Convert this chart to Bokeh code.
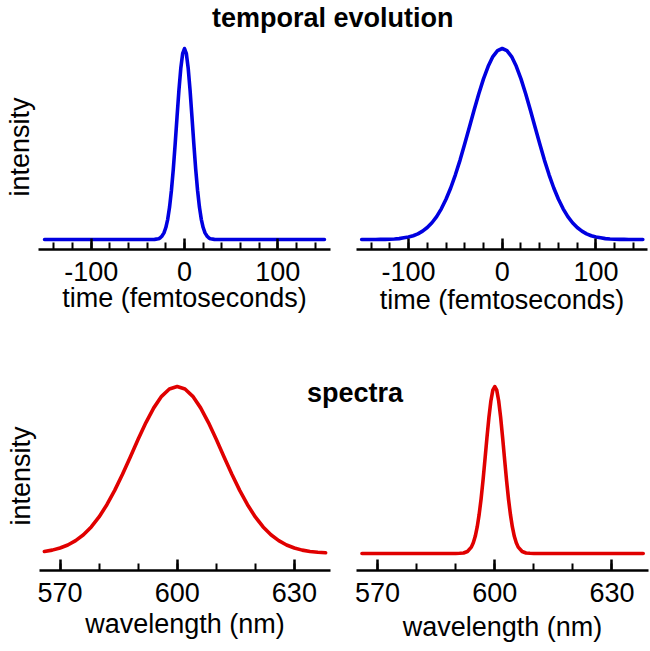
from bokeh.plotting import figure
from bokeh.models import Range1d, SingleIntervalTicker, FixedTicker, Div
from bokeh.layouts import row, column
from bokeh.embed import file_html
from bokeh.resources import INLINE

# ---------------- data ----------------
# top left: short pulse, intensity vs time (fs)
tl_time = [-150, -36, -32, -28, -26, -24, -22, -20, -18, -16, -14, -12, -10, -8, -6, -4, -2,
           0, 2, 4, 6, 8, 10, 12, 14, 16, 18, 20, 22, 24, 26, 28, 32, 36, 150]
tl_int = [0.0, 0.000, 0.001, 0.004, 0.009, 0.019, 0.035, 0.063, 0.106, 0.170, 0.258, 0.369, 0.501, 0.642, 0.780, 0.895, 0.973,
          1.000, 0.973, 0.895, 0.780, 0.642, 0.501, 0.369, 0.258, 0.170, 0.106, 0.063, 0.035, 0.019, 0.009, 0.004, 0.001, 0.000, 0.0]

# top right: long pulse, intensity vs time (fs)
tr_time = [-150, -145, -140, -135, -130, -125, -120, -115, -110, -105, -100, -95, -90, -85, -80, -75, -70, -65, -60, -55,
           -50, -45, -40, -35, -30, -25, -20, -15, -10, -5, 0, 5, 10, 15, 20, 25, 30, 35, 40, 45,
           50, 55, 60, 65, 70, 75, 80, 85, 90, 95, 100, 105, 110, 115, 120, 125, 130, 135, 140, 145, 150]
tr_int = [0.000, 0.000, 0.000, 0.000, 0.001, 0.001, 0.002, 0.003, 0.005, 0.009, 0.013, 0.020, 0.030, 0.044, 0.063, 0.088, 0.120, 0.161, 0.211, 0.270,
          0.339, 0.416, 0.501, 0.589, 0.678, 0.763, 0.841, 0.907, 0.958, 0.989, 1.000, 0.989, 0.958, 0.907, 0.841, 0.763, 0.678, 0.589, 0.501, 0.416,
          0.339, 0.270, 0.211, 0.161, 0.120, 0.088, 0.063, 0.044, 0.030, 0.020, 0.013, 0.009, 0.005, 0.003, 0.002, 0.001, 0.001, 0.000, 0.000, 0.000, 0.000]

# bottom left: broad spectrum, intensity vs wavelength (nm)
bl_wl = [566, 568, 570, 572, 574, 576, 578, 580, 582, 584, 586, 588, 590, 592, 594, 596, 598,
         600, 602, 604, 606, 608, 610, 612, 614, 616, 618, 620, 622, 624, 626, 628, 630, 632, 634, 636, 638]
bl_int = [0.012, 0.020, 0.033, 0.051, 0.077, 0.112, 0.159, 0.219, 0.292, 0.378, 0.475, 0.578, 0.684, 0.784, 0.872, 0.941, 0.985,
          1.000, 0.985, 0.941, 0.872, 0.784, 0.684, 0.578, 0.475, 0.378, 0.292, 0.219, 0.159, 0.112, 0.077, 0.051, 0.033, 0.020, 0.012, 0.007, 0.004]

# bottom right: narrow spectrum, intensity vs wavelength (nm)
br_wl = [566, 589, 590, 591, 592, 593, 594, 594.5, 595, 595.5, 596, 596.5, 597, 597.5, 598, 598.5, 599, 599.5,
         600, 600.5, 601, 601.5, 602, 602.5, 603, 603.5, 604, 604.5, 605, 605.5, 606, 607, 608, 609, 610, 611, 638]
br_int = [0.0, 0.000, 0.000, 0.001, 0.003, 0.012, 0.038, 0.064, 0.103, 0.159, 0.234, 0.328, 0.441, 0.567, 0.695, 0.815, 0.913, 0.978,
          1.000, 0.978, 0.913, 0.815, 0.695, 0.567, 0.441, 0.328, 0.234, 0.159, 0.103, 0.064, 0.038, 0.012, 0.003, 0.001, 0.000, 0.000, 0.0]

time_ticks = {-100: "-100", 0: "0", 100: "100"}
wl_ticks = {570: "570", 600: "600", 630: "630"}

title_top = "temporal evolution"
title_bottom = "spectra"
time_label = "time (femtoseconds)"
wl_label = "wavelength (nm)"
y_label = "intensity"

BLUE = "#0000e0"
RED = "#e00000"
FONT = "Liberation Sans"
FS = "27px"
LW = 3.6


def make_panel(xr, yr, fw, fh, bl, br, bt, bb, ylabel):
    p = figure(frame_width=fw, frame_height=fh,
               x_range=Range1d(*xr), y_range=Range1d(*yr),
               min_border_left=bl, min_border_right=br, min_border_top=bt, min_border_bottom=bb,
               y_axis_location="left" if ylabel else None,
               output_backend="svg", toolbar_location=None)
    p.xgrid.visible = False
    p.ygrid.visible = False
    p.outline_line_color = None
    p.background_fill_color = "white"
    p.border_fill_color = "white"
    if ylabel:
        ya = p.yaxis[0]
        ya.ticker = FixedTicker(ticks=[], minor_ticks=[])
        ya.axis_line_color = None
        ya.major_tick_line_color = None
        ya.minor_tick_line_color = None
        ya.major_tick_out = 0
        ya.major_tick_in = 0
        ya.major_label_standoff = 0
        ya.axis_label = ylabel
        ya.axis_label_standoff = 4
        ya.axis_label_text_font = FONT
        ya.axis_label_text_font_size = FS
        ya.axis_label_text_font_style = "normal"
        ya.axis_label_text_color = "black"
    return p


def style_x(p, interval, nminor, overrides, label, lab_standoff, ax_standoff):
    ax = p.xaxis[0]
    ax.ticker = SingleIntervalTicker(interval=interval, num_minor_ticks=nminor)
    ax.major_label_overrides = overrides
    ax.axis_line_color = "black"
    ax.axis_line_width = 2.5
    ax.major_tick_in = 11
    ax.major_tick_out = 0
    ax.major_tick_line_width = 2.5
    ax.major_tick_line_color = "black"
    ax.minor_tick_in = 7
    ax.minor_tick_out = 0
    ax.minor_tick_line_width = 2
    ax.minor_tick_line_color = "black"
    ax.major_label_text_font = FONT
    ax.major_label_text_font_size = FS
    ax.major_label_text_color = "black"
    ax.major_label_standoff = lab_standoff
    ax.axis_label = label
    ax.axis_label_text_font = FONT
    ax.axis_label_text_font_size = FS
    ax.axis_label_text_font_style = "normal"
    ax.axis_label_text_color = "black"
    ax.axis_label_standoff = ax_standoff


# top row
p1 = make_panel((-156.5, 156.5), (-0.052, 1.021), 292, 205, 38, 13, 44, 91, y_label)
style_x(p1, 100, 5, time_ticks, time_label, 12, -1)
p1.line(tl_time, tl_int, line_width=LW, line_color=BLUE, line_join="round", line_cap="round")

p2 = make_panel((-155.5, 155.0), (-0.052, 1.021), 291, 205, 13, 3, 44, 91, None)
style_x(p2, 100, 5, time_ticks, time_label, 12, 1)
p2.line(tr_time, tr_int, line_width=LW, line_color=BLUE, line_join="round", line_cap="round")

# bottom row
p3 = make_panel((564.75, 639.25), (-0.102, 1.030), 291, 189, 39, 13, 41, 81, y_label)
style_x(p3, 30, 3, wl_ticks, wl_label, 12, 4)
p3.line(bl_wl, bl_int, line_width=LW, line_color=RED, line_join="round", line_cap="round")

p4 = make_panel((564.6, 639.35), (-0.102, 1.030), 292, 189, 13, 2, 41, 81, None)
style_x(p4, 30, 3, wl_ticks, wl_label, 12, 7)
p4.line(br_wl, br_int, line_width=LW, line_color=RED, line_join="round", line_cap="round")

layout = column(row(p1, p2), row(p3, p4))

txt_style = ("font-family:'Liberation Sans',Arial,sans-serif;font-size:27px;font-weight:bold;"
             "line-height:normal;color:#000;white-space:nowrap;margin:0;padding:0;")
t1 = Div(text='<div style="%s">%s</div>' % (txt_style, title_top), width=300, height=34, margin=0,
         styles={"position": "absolute", "left": "212px", "top": "3px", "z-index": "10"})
t2 = Div(text='<div style="%s">%s</div>' % (txt_style, title_bottom), width=120, height=34, margin=0,
         styles={"position": "absolute", "left": "307px", "top": "378px", "z-index": "10"})

open("out.html", "w").write(file_html([layout, t1, t2], INLINE))
